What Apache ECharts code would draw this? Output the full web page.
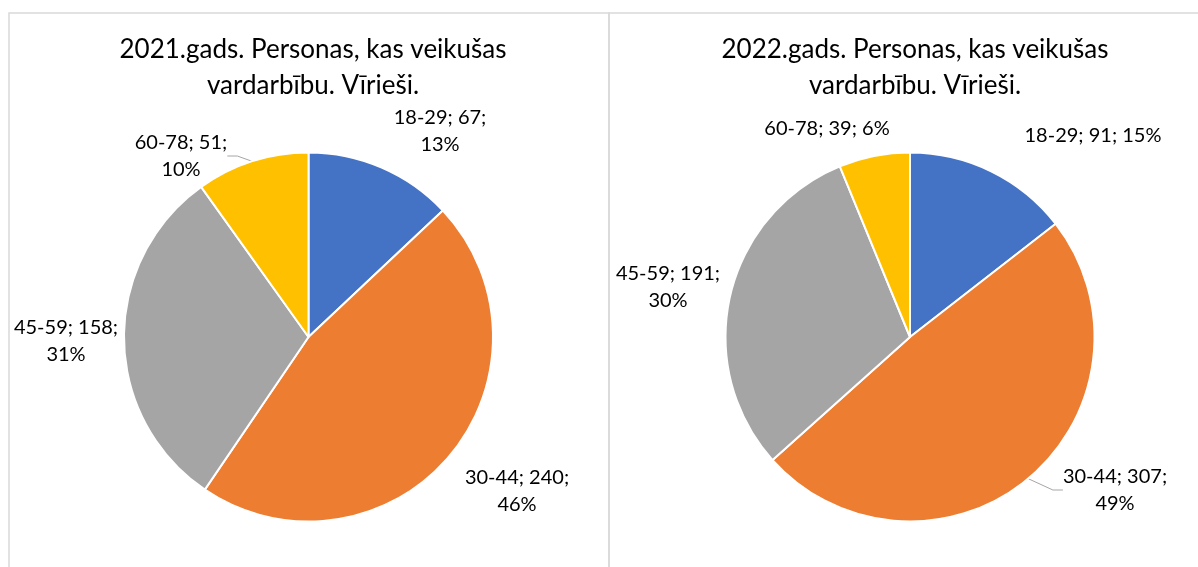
<!DOCTYPE html>
<html>
<head>
<meta charset="utf-8">
<script src="https://cdn.jsdelivr.net/npm/echarts@6/dist/echarts.min.js"></script>
<style>
  html, body { margin: 0; padding: 0; background: #fff; }
  #chart { width: 1198px; height: 567px; }
</style>
</head>
<body>
<div id="chart"></div>
<script>
// dati
var ageGroups = ['18-29', '30-44', '45-59', '60-78'];
var men2021 = [67, 240, 158, 51];
var men2022 = [91, 307, 191, 39];
var titles = ['2021.gads. Personas, kas veikušas\nvardarbību. Vīrieši.',
              '2022.gads. Personas, kas veikušas\nvardarbību. Vīrieši.'];
var colors = ['#4472C4', '#ED7D31', '#A5A5A5', '#FFC000'];

// etiķešu novietojums (kā Excel "best fit")
var labelPos = [
  [[440, 131, true], [517, 491, true], [66, 341, true], [181, 156, true]],
  [[1093, 136, false], [1115, 490, true], [668, 287, true], [827, 129, false]]
];
var showLine = [[false, false, false, true], [false, true, false, false]];

var fontFam = 'Lato, "Open Sans", sans-serif';

function buildData(values, s) {
  return values.map(function (v, i) {
    return {
      name: ageGroups[i],
      value: v,
      label: {
        formatter: labelPos[s][i][2] ? '{b}; {c};\n{d}%' : '{b}; {c}; {d}%'
      },
      labelLine: { show: showLine[s][i] }
    };
  });
}

function makeSeries(values, s, cx) {
  return {
    type: 'pie',
    center: [cx, 337],
    radius: 184.5,
    startAngle: 90,
    clockwise: true,
    percentPrecision: 0,
    silent: true,
    animation: false,
    itemStyle: { borderColor: '#fff', borderWidth: 2 },
    label: {
      show: true,
      position: 'outside',
      color: '#000',
      fontFamily: fontFam,
      fontSize: 20,
      lineHeight: 27,
      align: 'center',
      overflow: 'none'
    },
    labelLine: {
      show: true,
      length: 10,
      length2: 10,
      lineStyle: { color: '#a6a6a6', width: 1 }
    },
    labelLayout: function (params) {
      var p = labelPos[s][params.dataIndex];
      return { x: p[0], y: p[1], align: 'center', verticalAlign: 'middle' };
    },
    data: buildData(values, s)
  };
}

var myChart = echarts.init(document.getElementById('chart'));
var option = {
  color: colors,
  backgroundColor: '#fff',
  title: [{
    text: titles[0],
    left: 308,
    top: 27,
    textAlign: 'center',
    textStyle: { fontFamily: fontFam, fontSize: 26, fontWeight: 'normal', color: '#000', lineHeight: 36 }
  }, {
    text: titles[1],
    left: 910,
    top: 27,
    textAlign: 'center',
    textStyle: { fontFamily: fontFam, fontSize: 26, fontWeight: 'normal', color: '#000', lineHeight: 36 }
  }],
  graphic: [{
    type: 'rect',
    shape: { x: 9, y: 13, width: 600, height: 580 },
    style: { fill: 'none', stroke: '#d9d9d9', lineWidth: 1.5 },
    silent: true
  }, {
    type: 'rect',
    shape: { x: 609, y: 13, width: 600, height: 580 },
    style: { fill: 'none', stroke: '#d9d9d9', lineWidth: 1.5 },
    silent: true
  }],
  series: [makeSeries(men2021, 0, 308.5), makeSeries(men2022, 1, 910)]
};
myChart.setOption(option);
</script>
</body>
</html>
